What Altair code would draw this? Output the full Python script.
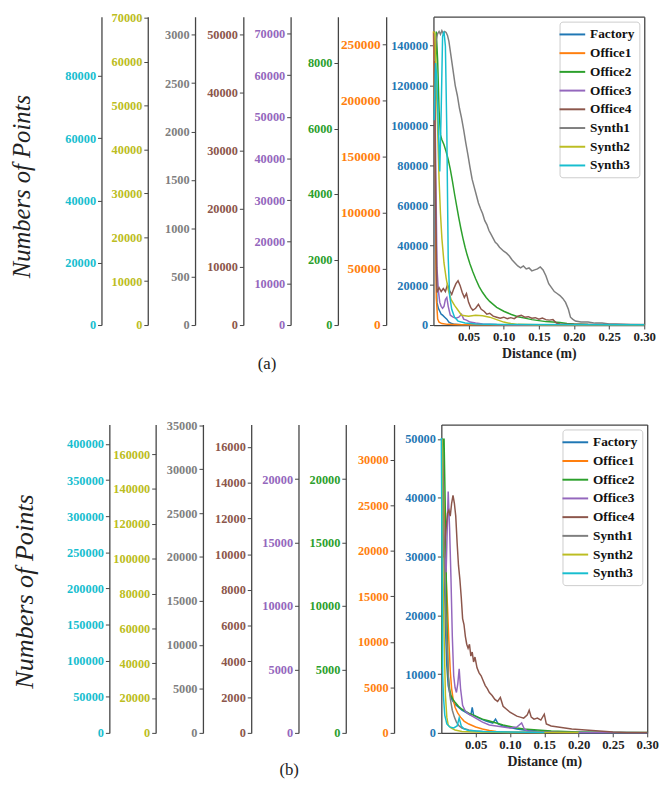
import altair as alt
import pandas as pd

SERIES = ["Factory", "Office1", "Office2", "Office3", "Office4", "Synth1", "Synth2", "Synth3"]
COLORS = ["#1f77b4", "#ff7f0e", "#2ca02c", "#9467bd", "#8c564b", "#7f7f7f", "#bcbd22", "#17becf"]
X_TICKS = [0.05, 0.10, 0.15, 0.20, 0.25, 0.30]

# ---------------- panel (a) ----------------
a_factory_d = [0.001, 0.003, 0.005, 0.007, 0.009, 0.011, 0.013, 0.016, 0.019, 0.022, 0.026, 0.030, 0.040, 0.060, 0.100, 0.150, 0.300]
a_factory_v = [147100, 38490, 11350, 8390, 6909, 5429, 4935, 3948, 2961, 1481, 740, 345, 197, 99, 49, 30, 10]

a_office1_d = [0.000, 0.002, 0.004, 0.006, 0.008, 0.012, 0.020, 0.040, 0.080, 0.150, 0.300]
a_office1_v = [261400, 182460, 24560, 5263, 2632, 1316, 614, 351, 175, 88, 40]

a_office2_d = [0.002, 0.004, 0.006, 0.008, 0.010, 0.012, 0.015, 0.018, 0.021, 0.024, 0.027, 0.030, 0.033, 0.036,
               0.039, 0.042, 0.045, 0.048, 0.052, 0.056, 0.060, 0.065, 0.070, 0.075, 0.080, 0.090, 0.100, 0.110,
               0.120, 0.130, 0.140, 0.150, 0.160, 0.170, 0.180, 0.190, 0.200, 0.220, 0.250, 0.300]
a_office2_v = [6858, 8964, 8061, 6557, 5805, 5655, 5505, 5294, 5053, 4753, 4392, 4001, 3640, 3279,
               2948, 2647, 2376, 2136, 1865, 1624, 1414, 1173, 993, 842, 722, 541, 421, 331,
               256, 211, 165, 135, 105, 90, 75, 45, 30, 15, 9, 6]

a_office3_d = [0.001, 0.003, 0.005, 0.007, 0.009, 0.011, 0.013, 0.015, 0.017, 0.019, 0.021, 0.024, 0.028,
               0.032, 0.036, 0.040, 0.043, 0.047, 0.052, 0.060, 0.070, 0.090, 0.120, 0.200, 0.300]
a_office3_v = [70000, 42100, 13720, 8278, 5440, 4494, 4021, 4494, 6149, 6622, 4494, 2365, 1892,
               1656, 1892, 2602, 1419, 1183, 710, 473, 237, 118, 71, 47, 24]

a_office4_d = [0.001, 0.003, 0.005, 0.008, 0.011, 0.014, 0.017, 0.020, 0.023, 0.026, 0.029, 0.032, 0.035,
               0.038, 0.041, 0.044, 0.047, 0.050, 0.053, 0.056, 0.060, 0.064, 0.068, 0.072, 0.076, 0.080,
               0.085, 0.090, 0.095, 0.100, 0.105, 0.110, 0.115, 0.120, 0.125, 0.130, 0.135, 0.140, 0.145,
               0.150, 0.155, 0.160, 0.165, 0.170, 0.175, 0.180, 0.200, 0.250, 0.300]
a_office4_v = [50510, 21700, 5594, 6441, 5763, 6272, 5763, 6950, 5933, 5255, 6272, 7119, 7628,
               6780, 5594, 4746, 5424, 3899, 3051, 2543, 2882, 3560, 2712, 2373, 1865, 2034,
               1526, 1356, 1187, 1356, 1102, 1271, 1102, 1526, 1695, 1356, 1441, 1187, 1271,
               1017, 1187, 932, 848, 932, 339, 170, 119, 85, 51]

a_synth1_d = [0.002, 0.004, 0.006, 0.008, 0.010, 0.012, 0.014, 0.016, 0.018, 0.020, 0.022,
              0.025, 0.028, 0.031, 0.034, 0.037, 0.040, 0.043, 0.046, 0.049, 0.052, 0.055, 0.058, 0.061,
              0.064, 0.067, 0.070, 0.073, 0.076, 0.079, 0.082, 0.085, 0.088, 0.091, 0.094, 0.097, 0.100,
              0.104, 0.108, 0.112, 0.116, 0.120, 0.124, 0.128, 0.132, 0.136, 0.140, 0.144, 0.148, 0.152,
              0.156, 0.160, 0.164, 0.168, 0.172, 0.176, 0.180, 0.184, 0.188, 0.192,
              0.195, 0.198, 0.202, 0.210, 0.220, 0.230, 0.240, 0.250, 0.260, 0.280, 0.300]
a_synth1_v = [2728, 2952, 3013, 3033, 3003, 3043, 3013, 3033, 3023, 2993, 2932,
              2779, 2626, 2474, 2372, 2240, 2138, 2016, 1883, 1761, 1629, 1507, 1425, 1344,
              1262, 1201, 1150, 1079, 1038, 977, 937, 896, 855, 835, 804, 784, 763,
              743, 713, 672, 641, 611, 590, 611, 580, 590, 560, 570, 580, 601,
              570, 509, 428, 387, 346, 326, 305, 275, 234, 163,
              81, 61, 41, 31, 31, 20, 20, 10, 10, 5, 5]

a_synth2_d = [0.000, 0.002, 0.004, 0.006, 0.008, 0.010, 0.012, 0.015, 0.018, 0.021, 0.025, 0.030,
              0.035, 0.040, 0.050, 0.060, 0.070, 0.080, 0.090, 0.100, 0.110, 0.120, 0.150, 0.300]
a_synth2_v = [66930, 66480, 55700, 44470, 33240, 25380, 19760, 14150, 10780, 8086, 5840, 4492,
              3369, 2246, 2021, 2246, 2134, 1797, 1235, 674, 337, 157, 90, 45]

a_synth3_d = [0.001, 0.003, 0.005, 0.007, 0.009, 0.011, 0.013, 0.015, 0.017, 0.019, 0.021, 0.023,
              0.026, 0.030, 0.035, 0.045, 0.060, 0.100, 0.300]
a_synth3_v = [65770, 84110, 78420, 62610, 49330, 68930, 92650, 94230, 89480, 62610, 21500, 9490,
              5060, 2530, 1265, 632, 316, 158, 63]

A_TOPS = [154460, 274560, 9414, 74020, 53050, 3186, 70290, 98980]
A_TICKS = [
    [0, 20000, 40000, 60000, 80000, 100000, 120000, 140000],
    [0, 50000, 100000, 150000, 200000, 250000],
    [0, 2000, 4000, 6000, 8000],
    [0, 10000, 20000, 30000, 40000, 50000, 60000, 70000],
    [0, 10000, 20000, 30000, 40000, 50000],
    [0, 500, 1000, 1500, 2000, 2500, 3000],
    [0, 10000, 20000, 30000, 40000, 50000, 60000, 70000],
    [0, 20000, 40000, 60000, 80000],
]

# ---------------- panel (b) ----------------
b_factory_d = [0.001, 0.002, 0.004, 0.006, 0.008, 0.010, 0.013, 0.016, 0.020, 0.025, 0.030, 0.035, 0.040,
               0.043, 0.045, 0.047, 0.055, 0.065, 0.075, 0.079, 0.083, 0.090, 0.100, 0.110, 0.120, 0.140,
               0.170, 0.200, 0.250, 0.300]
b_factory_v = [49940, 44920, 29830, 18100, 11400, 8045, 6369, 5531, 4860, 4358, 3855, 3520, 3184,
               3017, 4358, 3017, 2514, 2011, 1676, 2346, 1508, 1173, 922, 670, 503, 335,
               168, 84, 50, 30]

b_office1_d = [0.001, 0.003, 0.005, 0.007, 0.009, 0.011, 0.013, 0.015, 0.017, 0.020, 0.024, 0.028, 0.033,
               0.040, 0.050, 0.060, 0.070, 0.080, 0.100, 0.150]
b_office1_v = [32240, 27920, 21420, 17100, 13850, 10060, 6817, 4869, 3787, 2813, 2164, 1731, 1298,
               974, 649, 433, 271, 162, 87, 54]

b_office2_d = [0.001, 0.002, 0.004, 0.006, 0.008, 0.010, 0.012, 0.014, 0.017, 0.020, 0.025, 0.030, 0.035,
               0.040, 0.050, 0.060, 0.070, 0.080, 0.090, 0.100, 0.110, 0.120, 0.140, 0.160, 0.200, 0.250, 0.300]
b_office2_v = [5049, 23150, 23150, 16930, 9166, 4505, 3496, 2952, 2641, 2408, 2097, 1864, 1709,
               1554, 1321, 1088, 932, 777, 621, 505, 388, 311, 233, 155, 78, 39, 23]

b_office3_d = [0.001, 0.003, 0.005, 0.007, 0.009, 0.010, 0.012, 0.014, 0.016, 0.018, 0.020, 0.022, 0.024,
               0.026, 0.028, 0.031, 0.035, 0.040, 0.045, 0.050, 0.060, 0.070, 0.080, 0.090, 0.100, 0.110,
               0.117, 0.121, 0.125, 0.140, 0.180, 0.300]
b_office3_v = [23150, 16930, 13830, 12660, 16930, 19030, 16160, 12270, 7613, 4505, 3573, 3185, 3884,
               5049, 3496, 2175, 1709, 1476, 1321, 1165, 854, 621, 544, 466, 388, 466,
               777, 311, 155, 78, 39, 16]

b_office4_d = [0.001, 0.003, 0.005, 0.007, 0.009, 0.011, 0.013, 0.015, 0.017, 0.019, 0.021, 0.023, 0.025,
               0.027, 0.029, 0.031, 0.033, 0.035, 0.037, 0.039, 0.041, 0.043, 0.045, 0.047, 0.049, 0.052,
               0.055, 0.058, 0.061, 0.064, 0.067, 0.070, 0.074, 0.078, 0.082, 0.086, 0.090, 0.095, 0.100,
               0.105, 0.110, 0.115, 0.120, 0.125, 0.128, 0.131, 0.135, 0.140, 0.145, 0.150, 0.153, 0.160,
               0.170, 0.180, 0.190, 0.200, 0.210, 0.220, 0.230, 0.240, 0.250, 0.270, 0.300]
b_office4_v = [16430, 9813, 10640, 11470, 12290, 12460, 12130, 12850, 13290, 12850, 12130, 10640, 9372,
               8600, 7608, 6395, 6064, 5403, 4962, 4741, 4962, 4300, 4521, 3969, 4245, 3639,
               3363, 3198, 2922, 2646, 2481, 2260, 2095, 1874, 1764, 1985, 1489, 1323, 1158,
               1047, 937, 882, 827, 992, 1268, 882, 772, 827, 717, 1047, 496, 386,
               331, 276, 220, 193, 165, 138, 110, 83, 55, 28, 17]

b_synth1_d = [0.001, 0.003, 0.005, 0.007, 0.009, 0.011, 0.013, 0.016, 0.019, 0.022, 0.026, 0.030, 0.040,
              0.050, 0.070, 0.100, 0.150]
b_synth1_v = [33390, 24430, 17700, 12100, 8740, 5378, 3922, 2577, 1793, 1233, 784, 560, 336,
              224, 112, 56, 34]

b_synth2_d = [0.001, 0.002, 0.004, 0.006, 0.008, 0.010, 0.014, 0.020, 0.030, 0.050, 0.100, 0.200]
b_synth2_v = [168500, 100660, 55420, 21490, 9048, 4524, 2828, 1697, 848, 452, 283, 170]

b_synth3_d = [0.000, 0.001, 0.002, 0.003, 0.005, 0.008, 0.012, 0.018, 0.023, 0.026, 0.029, 0.033, 0.040,
              0.060, 0.100, 0.150]
b_synth3_v = [408300, 243900, 79460, 52060, 24660, 12330, 8220, 6850, 9590, 20550, 9590, 5480, 3425,
              2055, 1096, 685]

B_TOPS = [52470, 33880, 24310, 24310, 17257, 35070, 177000, 427000]
B_TICKS = [
    [0, 10000, 20000, 30000, 40000, 50000],
    [0, 5000, 10000, 15000, 20000, 25000, 30000],
    [0, 5000, 10000, 15000, 20000],
    [0, 5000, 10000, 15000, 20000],
    [0, 2000, 4000, 6000, 8000, 10000, 12000, 14000, 16000],
    [0, 5000, 10000, 15000, 20000, 25000, 30000, 35000],
    [0, 20000, 40000, 60000, 80000, 100000, 120000, 140000, 160000],
    [0, 50000, 100000, 150000, 200000, 250000, 300000, 350000, 400000],
]

OFFSETS = [0, 48, 97, 145, 193, 242, 290, 337]
SERIF = "Liberation Serif, Times New Roman, serif"
SPINE = "#444444"
SPINE_W = 1.3


def make_panel(ds, vs, tops, ticks, plot_w, inset, tag, tag_dx, tag_dy,
               title_size, title_pad, title_y, lab_sizes):
    rows = []
    for s, dd, vv in zip(SERIES, ds, vs):
        for d, v in zip(dd, vv):
            rows.append({"series": s, "d": d, "v": v})
    df = pd.DataFrame(rows)

    x_scale = alt.Scale(domain=[0.0, 0.30], range=[inset, inset + plot_w], nice=False, zero=False)
    x_bottom = alt.Axis(values=X_TICKS, format=".2f", title="Distance (m)",
                        labelFont=SERIF, labelFontWeight="bold", labelFontSize=13, labelColor="#222",
                        titleFont=SERIF, titleFontWeight="bold", titleFontSize=14, titleColor="#222",
                        titlePadding=3, labelFlush=False, labelPadding=2, grid=False,
                        domainColor=SPINE, domainWidth=SPINE_W, tickColor=SPINE, tickSize=4)
    x_top = alt.Axis(orient="top", labels=False, ticks=False, title=None, grid=False,
                     domainColor=SPINE, domainWidth=SPINE_W)
    color_enc = alt.Color(
        "series:N",
        scale=alt.Scale(domain=SERIES, range=COLORS),
        legend=alt.Legend(title=None, orient="top-right", offset=5, padding=5,
                          fillColor="white", strokeColor="#cccccc", cornerRadius=3,
                          symbolType="M-2,0H2", symbolSize=170, symbolStrokeWidth=2,
                          labelFont=SERIF, labelFontWeight="bold", labelFontSize=13.5,
                          labelColor="#111", labelOffset=10, rowPadding=4),
    )
    layers = []
    for i, s in enumerate(SERIES):
        ax = dict(orient="left", offset=OFFSETS[i] - inset, values=ticks[i], format="d",
                  labelColor=COLORS[i], labelFont=SERIF, labelFontWeight="bold",
                  labelFontSize=lab_sizes[i], labelPadding=2, labelOverlap=False,
                  domainColor=SPINE, tickColor=SPINE, tickSize=4, grid=False, domainWidth=SPINE_W)
        if s == "Synth3":
            ax.update(title="Numbers of Points", titleFont=SERIF, titleFontStyle="italic",
                      titleFontWeight="normal", titleFontSize=title_size, titleColor="#222",
                      titlePadding=title_pad, titleY=title_y)
        else:
            ax.update(title=None)
        if i == 0:
            x_axis = x_bottom
        elif i == 1:
            x_axis = x_top
        else:
            x_axis = None
        layer = (
            alt.Chart(df)
            .transform_filter(alt.datum.series == s)
            .mark_line(strokeWidth=1.5)
            .encode(
                x=alt.X("d:Q", scale=x_scale, axis=x_axis),
                y=alt.Y("v:Q", scale=alt.Scale(domain=[0, tops[i]], nice=False, zero=True),
                        axis=alt.Axis(**ax)),
                color=color_enc,
                order="d:Q",
            )
        )
        layers.append(layer)
    # right-hand frame edge (invisible line, visible axis spine)
    frame_right = (
        alt.Chart(df)
        .transform_filter(alt.datum.series == SERIES[0])
        .mark_line(opacity=0)
        .encode(
            x=alt.X("d:Q", scale=x_scale, axis=None),
            y=alt.Y("v:Q", scale=alt.Scale(domain=[0, tops[0]], nice=False, zero=True),
                    axis=alt.Axis(orient="right", labels=False, ticks=False, title=None, grid=False,
                                  domainColor=SPINE, domainWidth=SPINE_W)),
        )
    )
    layers.append(frame_right)
    return (
        alt.layer(*layers)
        .resolve_scale(y="independent")
        .resolve_axis(x="independent")
        .properties(
            width=inset + plot_w, height=313,
            title=alt.TitleParams(text=tag, orient="bottom", anchor="middle", frame="group",
                                  dx=tag_dx, dy=tag_dy, font=SERIF, fontSize=17,
                                  fontWeight="normal", color="#222"),
        )
    )


panel_a = make_panel(
    [a_factory_d, a_office1_d, a_office2_d, a_office3_d, a_office4_d, a_synth1_d, a_synth2_d, a_synth3_d],
    [a_factory_v, a_office1_v, a_office2_v, a_office3_v, a_office4_v, a_synth1_v, a_synth2_v, a_synth3_v],
    A_TOPS, A_TICKS, 214, 0, "(a)", -276, -8, 25, 31, 172,
    [12.5, 13.5, 12.5, 12.5, 12.5, 12.5, 12.5, 12.5],
)
panel_b = make_panel(
    [b_factory_d, b_office1_d, b_office2_d, b_office3_d, b_office4_d, b_synth1_d, b_synth2_d, b_synth3_d],
    [b_factory_v, b_office1_v, b_office2_v, b_office3_v, b_office4_v, b_synth1_v, b_synth2_v, b_synth3_v],
    B_TOPS, B_TICKS, 209, 8, "(b)", -255, -10, 26.5, 28, 169,
    [12.5] * 8,
)

chart = (
    alt.vconcat(panel_a, panel_b, spacing=47)
    .resolve_legend(color="independent")
    .resolve_scale(color="independent")
    .configure(font=SERIF)
    .configure_view(strokeWidth=0)
    .properties(padding={"left": 9, "top": 6, "right": 3, "bottom": 5}, background="white")
)

chart.save("out.html", embed_options={"renderer": "svg", "actions": False})
